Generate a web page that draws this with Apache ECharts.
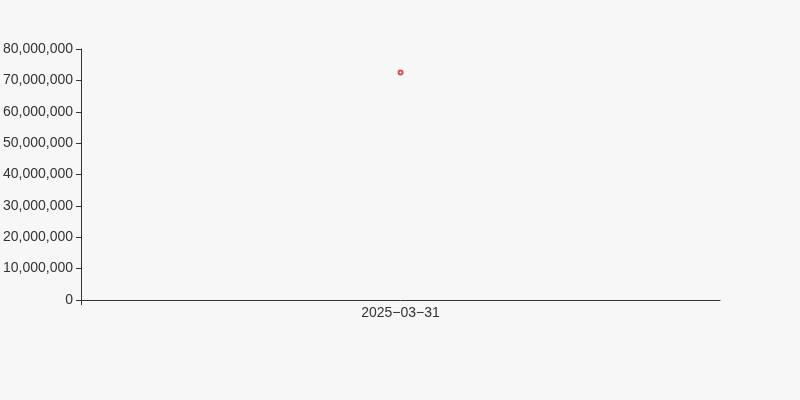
<!DOCTYPE html>
<html>
<head>
<meta charset="utf-8">
<script src="https://cdn.jsdelivr.net/npm/echarts@6/dist/echarts.min.js"></script>
<style>
html,body{margin:0;padding:0;background:#f7f7f7;}
#c{width:800px;height:400px;}
</style>
</head>
<body>
<div id="c"></div>
<script>
const categories = ['2025\u221203\u221231'];
const values = [72500000];
const yTicks = { min: 0, max: 80000000, interval: 10000000 };

const chart = echarts.init(document.getElementById('c'));
chart.setOption({
  backgroundColor: '#f7f7f7',
  animation: false,
  textStyle: { fontFamily: 'Liberation Sans, Arial, sans-serif' },
  grid: { left: 80, right: 80, top: 49, bottom: 100, containLabel: false },
  xAxis: [{
    type: 'category',
    data: categories,
    boundaryGap: true,
    axisLine: { lineStyle: { color: '#333' } },
    axisTick: { show: false },
    axisLabel: { color: '#333', fontSize: 14, margin: 6 },
    splitLine: { show: false }
  }, {
    type: 'value',
    position: 'bottom',
    min: 0,
    max: 1,
    axisLine: { show: false },
    axisTick: { show: true, customValues: [0], lineStyle: { color: '#333' } },
    axisLabel: { show: false },
    splitLine: { show: false }
  }],
  yAxis: {
    type: 'value',
    min: yTicks.min,
    max: yTicks.max,
    interval: yTicks.interval,
    axisLine: { show: true, lineStyle: { color: '#333' } },
    axisTick: { show: true, lineStyle: { color: '#333' } },
    axisLabel: {
      color: '#333', fontSize: 14, margin: 8,
      formatter: v => v.toLocaleString('en-US')
    },
    splitLine: { show: false }
  },
  series: [{
    type: 'line',
    xAxisIndex: 0,
    data: values,
    symbol: 'emptyCircle',
    symbolSize: 4,
    itemStyle: { color: '#dc4a56', borderWidth: 1 },
    lineStyle: { color: '#dc4a56' }
  }]
});
</script>
</body>
</html>
